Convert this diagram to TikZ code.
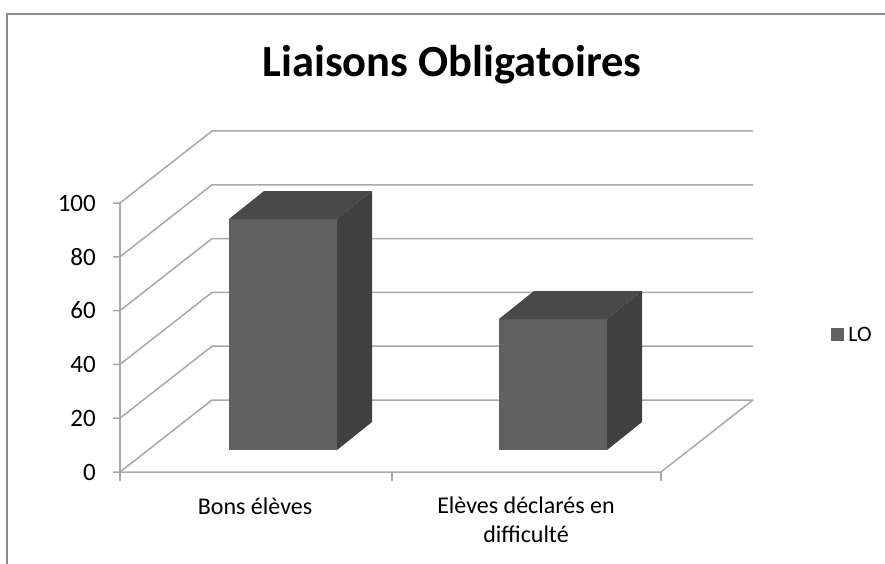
\documentclass[tikz,border=0pt]{standalone}
\usepackage{fontspec}
\setmainfont{Carlito}
\usetikzlibrary{positioning}
\definecolor{framegray}{HTML}{8C8C8C}
\definecolor{gridgray}{HTML}{A8A8A8}
\definecolor{barfront}{HTML}{616161}
\definecolor{bartop}{HTML}{494949}
\definecolor{barside}{HTML}{404040}
\tikzstyle{frame} = [draw=framegray, line width=2pt]
\tikzstyle{grid} = [draw=gridgray, line width=1.5pt]
\tikzstyle{ticklabel} = [font=\fontsize{25}{30}\selectfont, anchor=east, inner sep=0pt]
\tikzstyle{catlabel} = [font=\fontsize{24}{29}\selectfont, align=center, inner sep=0pt]
\tikzstyle{title} = [font=\fontsize{44.5}{50}\selectfont\bfseries, anchor=base, inner sep=0pt]

\begin{document}
\begin{tikzpicture}[x=1pt, y=-1pt]
\useasboundingbox (0,0) rectangle (885,564);

% Frame
\draw [frame] (7,564) -- (7,14) -- (885,14);

% Title
\node (title) [title] at (452,77) {Liaisons Obligatoires};

% Back wall and side wall
\foreach \v in {0,20,...,100} {
  \draw [grid] (113,472-2.69*\v) -- (120,472-2.69*\v) -- (212,400-2.69*\v) -- (753,400-2.69*\v);
  \node [ticklabel] at (96,472-2.69*\v) {\v};
}
\draw [grid] (120,203) -- (120,481);
\draw [grid] (120,472) -- (661,472) -- (753,400);
\draw [grid] (392,472) -- (392,481);
\draw [grid] (661,472) -- (661,481);

% Bars
\fill [barfront] (229,219) rectangle (337,450);
\fill [bartop] (229,219) -- (264,191) -- (372,191) -- (337,219) -- cycle;
\fill [barside] (337,219) -- (372,191) -- (372,422) -- (337,450) -- cycle;

\fill [barfront] (499,319) rectangle (607,450);
\fill [bartop] (499,319) -- (534,291) -- (642,291) -- (607,319) -- cycle;
\fill [barside] (607,319) -- (642,291) -- (642,422) -- (607,450) -- cycle;

% Category labels
\node (bons) [catlabel, anchor=base] at (255,514) {Bons élèves};
\node (diff) [catlabel, anchor=north] at (526,497) {Elèves déclarés en\\difficulté};

% Legend
\node (key) [fill=barfront, minimum size=13pt, inner sep=0pt] at (837.5,334.5) {};
\node (lo) [right=4pt of key, inner sep=0pt, font=\fontsize{22}{26}\selectfont] {LO};

\end{tikzpicture}
\end{document}
